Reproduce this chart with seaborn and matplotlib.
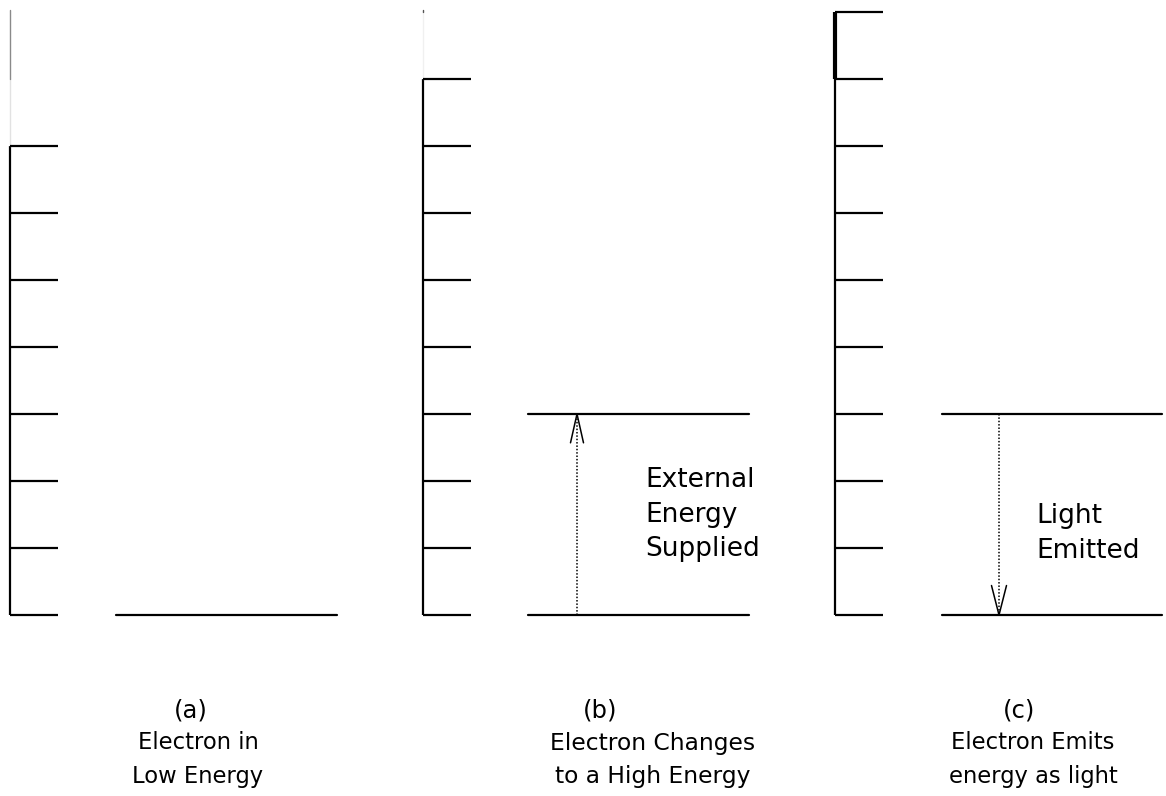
import matplotlib
matplotlib.use("Agg")
import matplotlib.pyplot as plt
import seaborn as sns
import pandas as pd

# ---------------- data ----------------
panel_ids = ["a", "b", "c"]
panel_tags = ["(a)", "(b)", "(c)"]
panel_captions = ["Electron in\nLow Energy",
                  "Electron Changes\nto a High Energy",
                  "Electron Emits\nenergy as light"]
tick_counts = [8, 9, 10]            # number of energy-level ticks on each scale
electron_levels = [[0], [0, 3], [3, 0]]
transition_from = [None, 0, 3]
transition_to = [None, 3, 0]
transition_labels = [None, "External\nEnergy\nSupplied", "Light\nEmitted"]

# ---------------- layout / style ----------------
sns.set_style("white")
plt.rcParams["font.family"] = ["DejaVu Sans"]
plt.rcParams["text.color"] = "black"

W, H = 1166, 796
fig = plt.figure(figsize=(W / 100, H / 100), dpi=100)

panel_left_px = [10, 423, 835]
panel_w_px = 330
y0_px, y9_px = 615, 12
tick_len = 48
elec_x = [(106, 327), (105, 326), (107, 327)]
arrow_x = [None, 154, 164]
head_len = [None, 0.43, 0.44]
head_hw = [None, 6.5, 7.5]
label_x = [None, 222, 201]
label_y = [None, 1.50, 1.22]
tag_x = [181, 177, 184]
cap_x = [188, 230, 198]
cap_size = [16.3, 16.8, 16.3]
cap_ls = [1.6, 1.55, 1.6]
lw = 1.6

for i, pid in enumerate(panel_ids):
    ax = fig.add_axes([panel_left_px[i] / W, (H - y0_px) / H,
                       panel_w_px / W, (y0_px - y9_px) / H])

    n = tick_counts[i]
    levels = list(range(n))
    top = n - 1
    # solid energy scale
    ax.plot([0, 0], [0, top], color="black", lw=lw, clip_on=False,
            solid_capstyle="butt")
    # faint continuation above the last tick
    if pid == "a":
        ax.plot([0, 0], [top, 8], color="#e2e2e2", lw=1.0, clip_on=False)
        ax.plot([0, 0], [8, 9.03], color="#8a8a8a", lw=1.0, clip_on=False)
    elif pid == "b":
        ax.plot([0, 0], [top, 9.03], color="#f0f0f0", lw=1.0, clip_on=False)
        ax.plot([0, 0], [9.0, 9.03], color="#555555", lw=1.0, clip_on=False)
    else:
        ax.plot([0, 0], [8, 9], color="black", lw=3.0, clip_on=False,
                solid_capstyle="butt")
    # level ticks
    ax.hlines(levels, 0, tick_len, color="black", lw=lw, clip_on=False)

    # electron levels (seaborn)
    df = pd.DataFrame({
        "x": [elec_x[i][0], elec_x[i][1]] * len(electron_levels[i]),
        "y": [lv for lv in electron_levels[i] for _ in range(2)],
        "u": [k for k in range(len(electron_levels[i])) for _ in range(2)],
    })
    sns.lineplot(data=df, x="x", y="y", units="u", estimator=None,
                 color="black", lw=lw, ax=ax, legend=False, clip_on=False)
    ax.set_xlim(0, panel_w_px)
    ax.set_ylim(0, 9)
    ax.axis("off")

    # transition arrow
    if transition_from[i] is not None:
        f, t = transition_from[i], transition_to[i]
        xa = arrow_x[i]
        ax.plot([xa, xa], [f, t], color="black", lw=1.1, ls=(0, (1, 1.2)),
                clip_on=False)
        d = 1 if t > f else -1
        ax.plot([xa - head_hw[i], xa, xa + head_hw[i]],
                [t - d * head_len[i], t, t - d * head_len[i]],
                color="black", lw=1.1, clip_on=False)
        ax.text(label_x[i], label_y[i], transition_labels[i], ha="left",
                va="center", fontsize=19, linespacing=1.43,
                family=["DejaVu Sans"], color="black")

    # captions
    ax.text(tag_x[i], -1.42, panel_tags[i], ha="center", va="center",
            fontsize=17.5, family=["DejaVu Sans"],
            color="black", clip_on=False)
    ax.text(cap_x[i], -2.16, panel_captions[i], ha="center", va="center",
            fontsize=cap_size[i], linespacing=cap_ls[i],
            multialignment="center", family=["DejaVu Sans"], color="black",
            clip_on=False)

fig.savefig("out.png", dpi=100, facecolor="white")
